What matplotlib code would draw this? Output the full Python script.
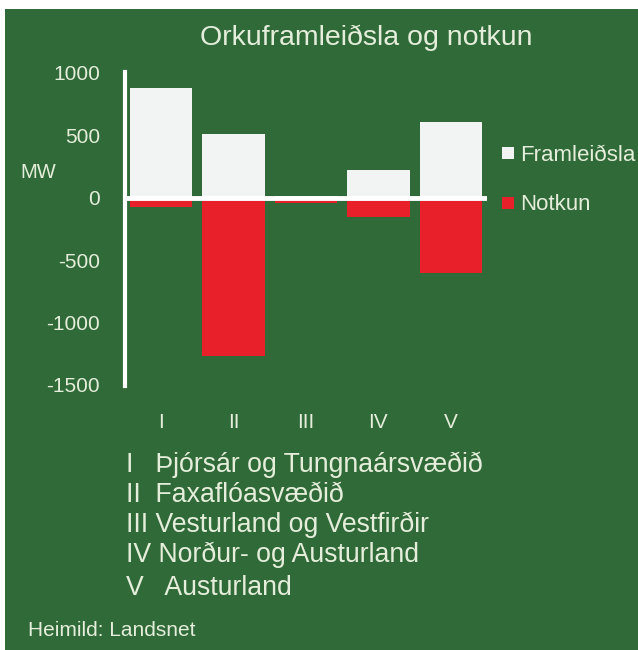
import matplotlib
matplotlib.use('Agg')
import matplotlib.pyplot as plt
from matplotlib.patches import Rectangle

plt.rcParams['font.family'] = ['Liberation Sans', 'DejaVu Sans']
plt.rcParams['axes.unicode_minus'] = False

# gögn
regions = ['I', 'II', 'III', 'IV', 'V']
framleidsla = [880, 510, 15, 220, 610]
notkun = [-70, -1270, -40, -150, -600]
yticks = [1000, 500, 0, -500, -1000, -1500]
skyringar = ['I   Þjórsár og Tungnaársvæðið',
             'II  Faxaflóasvæðið',
             'III Vesturland og Vestfirðir',
             'IV Norður- og Austurland',
             'V   Austurland']

GREEN = '#316a39'
TXT = '#e4eeda'
W, H = 638, 650

fig = plt.figure(figsize=(W / 100, H / 100), dpi=100)
fig.patch.set_facecolor('white')
fig.patches.append(Rectangle((5 / W, 0), 1, 1 - 9 / H, transform=fig.transFigure,
                             facecolor=GREEN, edgecolor='none', zorder=-5))

ax = fig.add_axes([125 / W, 1 - 385 / H, 362 / W, 312 / H])
ax.set_zorder(2)
ax.set_facecolor('none')
x = range(len(regions))
ax.bar(x, framleidsla, width=0.86, color='#f2f3f3', label='Framleiðsla', zorder=2)
ax.bar(x, notkun, width=0.86, color='#e8202a', label='Notkun', zorder=2)
ax.axhline(0, color='white', lw=3.5, zorder=3)
ax.set_xlim(-0.5, 4.5)
ax.set_ylim(-1500, 1000)
ax.set_yticks(yticks)
ax.set_xticks(list(x))
ax.set_xticklabels(regions)
for s in ['top', 'right', 'bottom']:
    ax.spines[s].set_visible(False)
ax.spines['left'].set_color('white')
ax.spines['left'].set_linewidth(3)
ax.spines['left'].set_bounds(-1510, 1010)
ax.tick_params(axis='y', length=0, pad=18, labelsize=15, labelcolor=TXT)
ax.tick_params(axis='x', length=0, pad=20, labelsize=15, labelcolor=TXT)

leg = ax.legend(loc='center left', bbox_to_anchor=(502 / W, 1 - 180 / H),
                bbox_transform=fig.transFigure, frameon=False, fontsize=16,
                handlelength=0.55, handleheight=0.45, handletextpad=0.25,
                labelspacing=1.3, borderpad=0, borderaxespad=0)
for t in leg.get_texts():
    t.set_color(TXT)

fig.text(366 / W, 1 - 38 / H, 'Orkuframleiðsla og notkun', ha='center', va='center',
         fontsize=20.5, color=TXT)
fig.text(20 / W, 1 - 172 / H, 'MW', ha='left', va='center', fontsize=14.5, color=TXT)

ys = [465, 495, 525, 555, 588]
for s, yy in zip(skyringar, ys):
    fig.text(126 / W, 1 - yy / H, s, ha='left', va='center', fontsize=19.2, color=TXT)

fig.text(28 / W, 1 - 630 / H, 'Heimild: Landsnet', ha='left', va='center',
         fontsize=15, color=TXT)

fig.savefig('out.png', dpi=100)
